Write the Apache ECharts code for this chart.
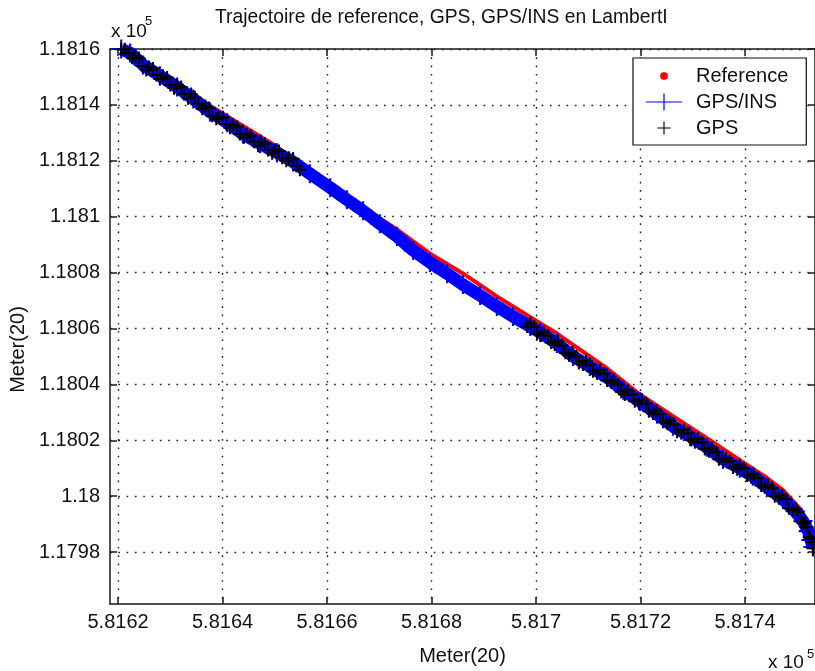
<!DOCTYPE html>
<html>
<head>
<meta charset="utf-8">
<script src="https://cdn.jsdelivr.net/npm/echarts@6/dist/echarts.min.js"></script>
<style>
html,body{margin:0;padding:0;background:#fff;}
#chart{width:815px;height:671px;}
</style>
</head>
<body>
<div id="chart"></div>
<script>
// ---------- data ----------
const titleText = 'Trajectoire de reference, GPS, GPS/INS en LambertI';
const xName = 'Meter(20)';
const yName = 'Meter(20)';
const seriesNames = ['Reference', 'GPS/INS', 'GPS'];

const xTicks = [581620, 581640, 581660, 581680, 581700, 581720, 581740];
const yTicks = [117980, 118000, 118020, 118040, 118060, 118080, 118100, 118120, 118140, 118160];
const xRange = [581618.47, 581753.4];
const yRange = [117961.43, 118160];

const refX = [581620.6, 581624.8, 581631.3, 581637.6, 581643.9, 581650.4, 581653.5, 581656.7, 581660.6, 581666.9,
  581673.4, 581679.7, 581686.0, 581692.5, 581698.9, 581704.0, 581707.1, 581713.6, 581719.9, 581726.2,
  581732.7, 581739.0, 581744.2, 581747.3, 581750.5, 581751.7];
const refY = [118160.0, 118155.6, 118147.8, 118139.7, 118132.5, 118125.0, 118120.6, 118116.8, 118111.1, 118103.2,
  118095.4, 118086.8, 118079.7, 118071.5, 118064.0, 118058.2, 118054.1, 118045.7, 118036.4, 118028.6,
  118020.8, 118012.9, 118006.5, 118002.1, 117995.6, 117991.8];

const insX = [581620.6, 581622.3, 581624.8, 581628.0, 581631.3, 581634.4, 581637.6, 581640.9, 581643.9, 581647.2,
  581650.4, 581653.5, 581656.7, 581660.6, 581663.8, 581666.9, 581670.1, 581673.4, 581676.5, 581679.7,
  581683.0, 581686.0, 581689.3, 581692.5, 581695.6, 581698.9, 581700.8, 581704.0, 581707.1, 581710.3,
  581713.6, 581716.7, 581719.9, 581723.2, 581726.2, 581729.5, 581732.7, 581735.8, 581739.0, 581741.5,
  581744.2, 581747.3, 581749.6, 581751.1, 581752.1, 581752.6, 581753.0];
const insY = [118160.0, 118158.6, 118154.3, 118150.4, 118146.4, 118142.1, 118137.5, 118133.6, 118129.6, 118126.1,
  118122.9, 118119.6, 118115.4, 118110.4, 118106.1, 118102.1, 118097.5, 118092.9, 118087.9, 118083.6,
  118079.6, 118075.7, 118071.8, 118067.9, 118064.3, 118060.7, 118058.6, 118054.6, 118050.0, 118046.4,
  118042.5, 118037.9, 118033.9, 118029.3, 118025.0, 118021.4, 118017.5, 118013.2, 118010.0, 118007.1,
  118003.2, 117998.9, 117994.6, 117991.1, 117987.5, 117984.3, 117981.8];

const gpsX = [
  // first stretch (before the outage)
  581620.6, 581621.9, 581623.3, 581624.6, 581625.9, 581627.3, 581628.6, 581630.0, 581631.3, 581632.6,
  581634.0, 581635.3, 581636.7, 581638.0, 581639.3, 581640.7, 581642.0, 581643.3, 581644.7, 581646.0,
  581647.4, 581648.7, 581650.0, 581651.4, 581652.7, 581654.1,
  581621.3, 581622.7, 581624.0, 581625.4, 581626.7, 581628.0, 581629.4, 581630.7, 581632.1, 581633.4,
  581634.7, 581636.1, 581637.4, 581638.8, 581640.1, 581641.4, 581642.8, 581644.1, 581645.5, 581646.8,
  581648.1, 581649.5, 581650.8, 581652.2, 581653.5, 581654.8,
  // second stretch (after the outage)
  581698.3, 581699.6, 581701.0, 581702.3, 581703.6, 581705.0, 581706.3, 581707.7, 581709.0, 581710.3,
  581711.7, 581713.0, 581714.4, 581715.7, 581717.0, 581718.4, 581719.7, 581721.1, 581722.4, 581723.7,
  581725.1, 581726.4, 581727.8, 581729.1, 581730.4, 581731.8, 581733.1, 581734.5, 581735.8, 581737.1,
  581738.5, 581739.8, 581741.2, 581742.5, 581743.8, 581745.2, 581746.5, 581747.8, 581749.2, 581750.1,
  581751.1, 581751.9, 581752.4, 581752.8, 581753.0,
  581698.9, 581700.2, 581701.5, 581702.9, 581704.2, 581705.6, 581706.9, 581708.2, 581709.6, 581710.9,
  581712.3, 581713.6, 581714.9, 581716.3, 581717.6, 581718.9, 581720.3, 581721.6, 581723.0, 581724.3,
  581725.6, 581727.0, 581728.3, 581729.7, 581731.0, 581732.3, 581733.7, 581735.0, 581736.4, 581737.7,
  581739.0, 581740.4, 581741.7, 581743.1, 581744.4, 581745.7, 581747.1, 581748.4, 581749.8, 581750.7,
  581751.5, 581752.3];
const gpsY = [
  118159.9, 118158.6, 118157.5, 118153.9, 118153.6, 118150.7, 118150.4, 118147.1, 118147.1, 118143.9,
  118143.9, 118140.4, 118139.6, 118136.1, 118135.7, 118133.2, 118132.9, 118129.6, 118129.6, 118126.8,
  118126.8, 118123.9, 118123.9, 118121.1, 118121.1, 118118.2,
  118159.9, 118156.9, 118156.7, 118152.5, 118153.0, 118149.3, 118149.8, 118146.0, 118146.4, 118142.4,
  118142.7, 118138.6, 118138.9, 118135.0, 118135.6, 118131.8, 118132.2, 118128.4, 118129.0, 118125.4,
  118126.2, 118122.7, 118123.5, 118120.0, 118120.7, 118116.8,
  118060.7, 118060.7, 118057.5, 118057.5, 118054.3, 118053.9, 118050.4, 118050.0, 118047.1, 118047.1,
  118043.9, 118043.9, 118040.7, 118040.0, 118036.4, 118036.4, 118033.2, 118033.2, 118029.6, 118029.3,
  118026.1, 118025.7, 118022.5, 118022.5, 118019.3, 118019.3, 118016.1, 118015.7, 118012.5, 118012.5,
  118009.6, 118010.0, 118006.8, 118006.4, 118003.2, 118002.9, 117999.3, 117998.9, 117995.0, 117994.3,
  117990.4, 117988.9, 117984.6, 117983.6, 117981.4,
  118061.8, 118058.1, 118058.7, 118055.0, 118055.4, 118051.3, 118051.4, 118047.7, 118048.4, 118044.7,
  118045.2, 118041.4, 118041.5, 118037.4, 118037.8, 118034.0, 118034.5, 118030.4, 118030.6, 118026.6,
  118026.9, 118023.1, 118023.7, 118020.1, 118020.6, 118016.9, 118017.2, 118013.2, 118013.7, 118010.3,
  118011.1, 118007.4, 118007.9, 118003.8, 118004.0, 118000.0, 118000.3, 117995.7, 117995.3, 117990.9,
  117990.7, 117985.4];

// ---------- helpers ----------
function pairs(xs, ys) { return xs.map((x, i) => [x, ys[i]]); }
function fmt(v) { return String(parseFloat((v / 1e5).toFixed(4))); }

const FONT = 'Liberation Sans, Arial, Helvetica, sans-serif';
const AX = '#1a1a1a';
const GRID = { color: '#1a1a1a', width: 1.4, type: [1.6, 6.7] };
const PLUS = 'path://M0,4.25 L10,4.25 L10,5.75 L0,5.75 Z M4.25,0 L5.75,0 L5.75,10 L4.25,10 Z';
const PLUS_BOLD = 'path://M0,4.45 L10,4.45 L10,5.55 L0,5.55 Z M4.45,0 L5.55,0 L5.55,10 L4.45,10 Z';

const chart = echarts.init(document.getElementById('chart'), null, { renderer: 'canvas' });

const baseX = {
  type: 'value', min: xRange[0], max: xRange[1], scale: true,
  axisLine: { show: true, onZero: false, lineStyle: { color: AX, width: 1.5 } },
  axisTick: { show: true, inside: true, length: 7, customValues: xTicks, lineStyle: { color: AX, width: 1.5 } },
};
const baseY = {
  type: 'value', min: yRange[0], max: yRange[1], scale: true,
  axisLine: { show: true, onZero: false, lineStyle: { color: AX, width: 1.5 } },
  axisTick: { show: true, inside: true, length: 7, customValues: yTicks, lineStyle: { color: AX, width: 1.5 } },
};

const option = {
  animation: false,
  backgroundColor: '#ffffff',
  textStyle: { fontFamily: FONT },
  title: {
    text: titleText, left: 215, top: 8, padding: 0,
    textStyle: { fontFamily: FONT, fontSize: 19.3, fontWeight: 'normal', color: '#111' }
  },
  grid: { left: 110, right: -1, top: 49, bottom: 66, containLabel: false },
  legend: {
    orient: 'vertical', left: 633, top: 58, selectedMode: false,
    backgroundColor: '#fff', borderColor: '#111', borderWidth: 1.2,
    padding: [8, 18, 7, 11], itemGap: 6, itemWidth: 40, itemHeight: 18,
    symbolKeepAspect: true,
    textStyle: { fontFamily: FONT, fontSize: 20, color: '#111', lineHeight: 20, padding: [0, 0, 0, 7] },
    data: [
      { name: seriesNames[0], icon: 'path://M0,0 M40,18 M20,5 L23,6 L24,9 L23,12 L20,13 L17,12 L16,9 L17,6 Z', itemStyle: { color: '#ff0000', borderWidth: 0 } },
      { name: seriesNames[1], icon: 'path://M0,0 M40,18 M2,8.4 L38,8.4 L38,9.6 L2,9.6 Z M19.4,0.5 L20.6,0.5 L20.6,17.5 L19.4,17.5 Z', itemStyle: { color: '#0000ff', borderWidth: 0 } },
      { name: seriesNames[2], icon: 'path://M0,0 M40,18 M13.5,8.4 L26.5,8.4 L26.5,9.6 L13.5,9.6 Z M19.4,2.5 L20.6,2.5 L20.6,15.5 L19.4,15.5 Z', itemStyle: { color: '#000000', borderWidth: 0 } }
    ]
  },
  xAxis: [
    Object.assign({}, baseX, {
      position: 'bottom',
      name: xName, nameLocation: 'middle', nameGap: 42,
      nameTextStyle: { fontFamily: FONT, fontSize: 20, color: '#111' },
      axisLabel: { show: true, customValues: xTicks, margin: 8, formatter: fmt, fontFamily: FONT, fontSize: 20, color: '#111' },
      splitLine: { show: true, lineStyle: GRID }
    }),
    Object.assign({}, baseX, {
      position: 'top',
      axisLabel: { show: false },
      splitLine: { show: false }
    })
  ],
  yAxis: [
    Object.assign({}, baseY, {
      position: 'left',
      name: yName, nameLocation: 'middle', nameGap: 82, nameRotate: 90,
      nameTextStyle: { fontFamily: FONT, fontSize: 20, color: '#111', padding: [0, 46, 0, 0] },
      axisLabel: { show: true, customValues: yTicks, margin: 10, formatter: fmt, fontFamily: FONT, fontSize: 20, color: '#111' },
      splitLine: { show: true, lineStyle: GRID }
    }),
    Object.assign({}, baseY, {
      position: 'right',
      axisLabel: { show: false },
      splitLine: { show: false }
    })
  ],
  graphic: [
    { type: 'text', left: 111, top: 22, style: { text: 'x 10', font: '19px ' + FONT, fill: '#111' } },
    { type: 'text', left: 145, top: 15, style: { text: '5', font: '13px ' + FONT, fill: '#111' } },
    { type: 'text', left: 768, top: 653, style: { text: 'x 10', font: '19px ' + FONT, fill: '#111' } },
    { type: 'text', left: 807, top: 648, style: { text: '5', font: '13px ' + FONT, fill: '#111' } }
  ],
  series: [
    {
      name: seriesNames[0], type: 'line', xAxisIndex: 0, yAxisIndex: 0,
      data: pairs(refX, refY), symbol: 'none', smooth: false,
      color: '#ff0000', lineStyle: { color: '#ff0000', width: 4 }, z: 2
    },
    {
      name: seriesNames[1], type: 'line', xAxisIndex: 0, yAxisIndex: 0,
      data: pairs(insX, insY), symbol: PLUS_BOLD, symbolSize: 19, showAllSymbol: true,
      color: '#0000ff', itemStyle: { color: '#0000ff', borderWidth: 0 },
      lineStyle: { color: '#0000ff', width: 12.5 }, z: 3
    },
    {
      name: seriesNames[2], type: 'scatter', xAxisIndex: 0, yAxisIndex: 0,
      data: pairs(gpsX, gpsY), symbol: PLUS, symbolSize: 13,
      color: '#000000', itemStyle: { color: '#000000', borderWidth: 0, opacity: 1 }, z: 4
    }
  ]
};
chart.setOption(option);
</script>
</body>
</html>
